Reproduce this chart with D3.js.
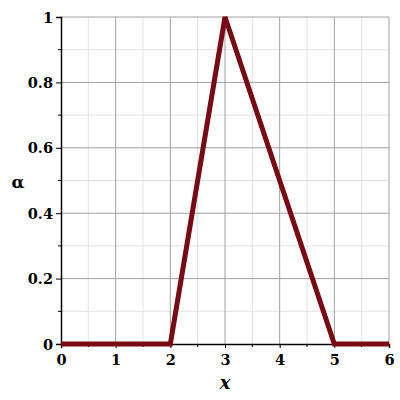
<!DOCTYPE html>
<html>
<head>
<meta charset="utf-8">
<script src="https://cdn.jsdelivr.net/npm/d3@7"></script>
<style>
    body { margin: 0; background: #fff; }
</style>
</head>
<body>
<svg id="chart" width="400" height="400"></svg>
<script>
// DATA
const xValues = [0, 2, 3, 5, 6];
const alphaValues = [0, 0, 1, 0, 0];
const xTicks = [0, 1, 2, 3, 4, 5, 6];
const yTicks = [0, 0.2, 0.4, 0.6, 0.8, 1];

const serif = "DejaVu Serif";

const svg = d3.select("#chart"),
    margin = { top: 17, right: 11, bottom: 56, left: 61 },
    width = +svg.attr("width"),
    height = +svg.attr("height");

const innerWidth = width - margin.left - margin.right;
const innerHeight = height - margin.top - margin.bottom;

const g = svg.append("g").attr("transform", `translate(${margin.left},${margin.top})`);

const x = d3.scaleLinear().domain([0, 6]).range([0, innerWidth]);
const y = d3.scaleLinear().domain([0, 1]).range([innerHeight, 0]);

const xMinor = d3.range(0.5, 6, 1);
const yMinor = d3.range(0.1, 1, 0.2);

// minor grid
g.selectAll(".vminor").data(xMinor).join("line")
    .attr("x1", d => x(d)).attr("x2", d => x(d))
    .attr("y1", 0).attr("y2", innerHeight)
    .attr("stroke", "#e2e2e2").attr("stroke-width", 1);
g.selectAll(".hminor").data(yMinor).join("line")
    .attr("y1", d => y(d)).attr("y2", d => y(d))
    .attr("x1", 0).attr("x2", innerWidth)
    .attr("stroke", "#e2e2e2").attr("stroke-width", 1);

// major grid
g.selectAll(".vmajor").data(xTicks.slice(1)).join("line")
    .attr("x1", d => x(d)).attr("x2", d => x(d))
    .attr("y1", 0).attr("y2", innerHeight)
    .attr("stroke", "#a0a0a0").attr("stroke-width", 1);
g.selectAll(".hmajor").data(yTicks.slice(1)).join("line")
    .attr("y1", d => y(d)).attr("y2", d => y(d))
    .attr("x1", 0).attr("x2", innerWidth)
    .attr("stroke", "#a0a0a0").attr("stroke-width", 1);

// axes
const xAxis = g.append("g").attr("transform", `translate(0,${innerHeight})`)
    .call(d3.axisBottom(x).tickValues(xTicks).tickFormat(d3.format("d")).tickSize(4).tickPadding(7));
xAxis.append("g").selectAll("line").data(xMinor).join("line")
    .attr("x1", d => x(d)).attr("x2", d => x(d)).attr("y1", 0).attr("y2", 3).attr("stroke", "#000");

const yAxis = g.append("g")
    .call(d3.axisLeft(y).tickValues(yTicks).tickFormat(d => d === 0 || d === 1 ? d : d3.format(".1f")(d)).tickSize(5).tickPadding(3));
yAxis.append("g").selectAll("line").data(yMinor).join("line")
    .attr("y1", d => y(d)).attr("y2", d => y(d)).attr("x1", 0).attr("x2", -3).attr("stroke", "#000");

[xAxis, yAxis].forEach(a => {
    a.attr("font-family", serif).attr("font-size", 14.5).attr("font-weight", "bold");
    a.select(".domain").attr("stroke", "#000").attr("stroke-width", 1.5);
    a.selectAll(".tick line").attr("stroke", "#000");
    a.selectAll(".tick text").attr("fill", "#000");
});
yAxis.selectAll(".tick text").attr("dy", "0.35em");

// curve
const pts = xValues.map((v, i) => [v, alphaValues[i]]);
g.append("path")
    .datum(pts)
    .attr("fill", "none")
    .attr("stroke", "#780a14")
    .attr("stroke-width", 5)
    .attr("stroke-linejoin", "miter")
    .attr("d", d3.line().x(d => x(d[0])).y(d => y(d[1])));

// axis labels
svg.append("text")
    .attr("x", margin.left + innerWidth / 2)
    .attr("y", 389)
    .attr("text-anchor", "middle")
    .attr("font-family", serif)
    .attr("font-style", "italic")
    .attr("font-weight", "bold")
    .attr("font-size", 18)
    .text("x");

svg.append("text")
    .attr("x", 18)
    .attr("y", 188)
    .attr("text-anchor", "middle")
    .attr("font-family", serif)
    .attr("font-weight", "bold")
    .attr("font-size", 17)
    .text("α");
</script>
</body>
</html>
